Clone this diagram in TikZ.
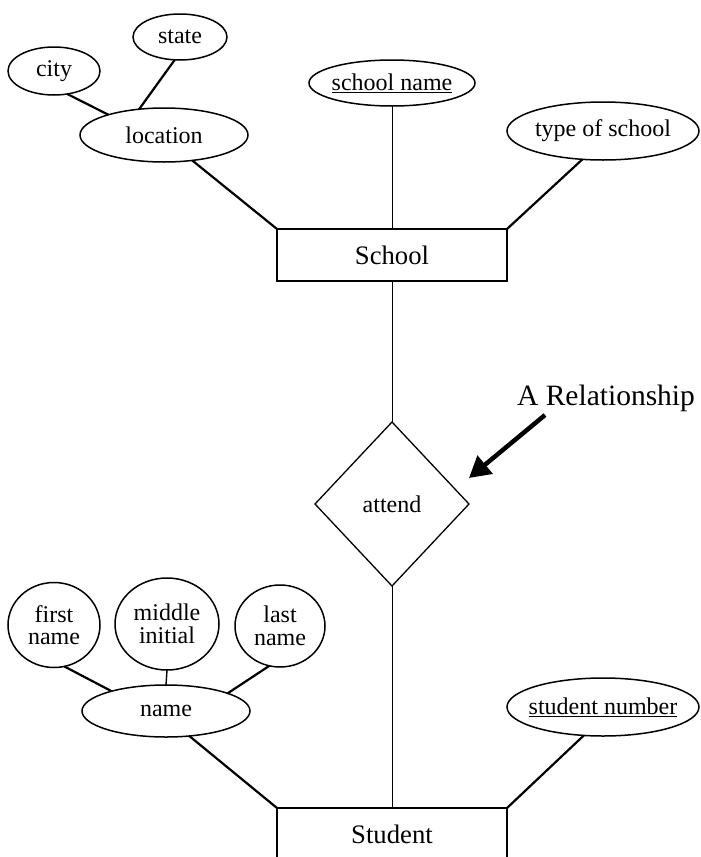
\documentclass[tikz,border=0pt]{standalone}
\usepackage{fontspec}
\setmainfont{Liberation Serif}
\usetikzlibrary{shapes.geometric,arrows.meta}
\begin{document}
\begin{tikzpicture}[x=1pt,y=-1pt,
  attr/.style={ellipse, draw, line width=1.5pt, inner sep=0pt, outer sep=0pt},
  atxt/.style={font=\fontsize{24}{22.5}\selectfont, inner sep=0pt, align=center},
  entity/.style={rectangle, draw, line width=1.3pt, inner sep=0pt, outer sep=0pt,
    minimum width=230pt, minimum height=52pt, font=\fontsize{26.7}{30}\selectfont},
  relship/.style={diamond, draw, line width=1.3pt, inner sep=0pt, outer sep=0pt,
    minimum width=154pt, minimum height=164pt, font=\fontsize{24}{28}\selectfont},
  conn/.style={line width=2.2pt},
  thinconn/.style={line width=1pt},
  bigarrow/.style={line width=4.5pt, -{Triangle[length=21pt,width=23pt]}}
]
\clip (0,0) rectangle (701,857);
% School side
\node[attr, minimum width=92pt, minimum height=48pt, label={[atxt]center:city}] (city) at (54,71) {};
\node[attr, minimum width=94pt, minimum height=46pt, label={[atxt]center:state}] (state) at (180,37) {};
\node[attr, minimum width=168pt, minimum height=54pt, label={[atxt]center:location}] (loc) at (164,135) {};
\node[attr, minimum width=166pt, minimum height=46pt, label={[atxt]center:{\underline{school name}}}] (sname) at (392,83) {};
\node[attr, minimum width=192pt, minimum height=58pt, label={[atxt]center:type of school}] (stype) at (603,131) {};
\node[entity] (school) at (392,255) {School};
% relationship
\node[relship] (rel) at (392,504) {attend};
\node[font=\fontsize{29.5}{32}\selectfont, inner sep=0pt] (reltxt) at (606,398) {A Relationship};
\coordinate (arrstart) at (545,415);
\coordinate (arrtip) at (469,478);
% Student side
\node[attr, minimum width=92pt, minimum height=85pt, label={[atxt]center:first\\name}] (first) at (54,625) {};
\node[attr, minimum width=104pt, minimum height=92pt, label={[atxt]center:middle\\initial}] (middle) at (167,624) {};
\node[attr, minimum width=90pt, minimum height=82pt, label={[atxt]center:last\\name}] (last) at (280,626) {};
\node[attr, minimum width=168pt, minimum height=52pt, label={[atxt]center:name}] (name) at (166,711) {};
\node[attr, minimum width=192pt, minimum height=58pt, label={[atxt]center:{\underline{student number}}}] (snum) at (603,707) {};
\node[entity] (student) at (392,834) {Student};
% connectors
\draw[conn] (city.300) -- (loc.160);
\draw[conn] (state.257) -- (loc.134);
\draw[conn] (loc.318) -- (school.north west);
\draw[thinconn] (sname.south) -- (school.north);
\draw[conn] (stype.234) -- (school.north east);
\draw[thinconn] (school.south) -- (rel.north);
\draw[thinconn] (rel.south) -- (student.north);
\draw[bigarrow] (arrstart) -- (arrtip);
\draw[conn] (first.284) -- (name.160);
\draw[line width=1.4pt] (middle.south) -- (name.north);
\draw[conn] (last.255) -- (name.16);
\draw[conn] (name.313) -- (student.north west);
\draw[conn] (snum.236) -- (student.north east);
\end{tikzpicture}
\end{document}
